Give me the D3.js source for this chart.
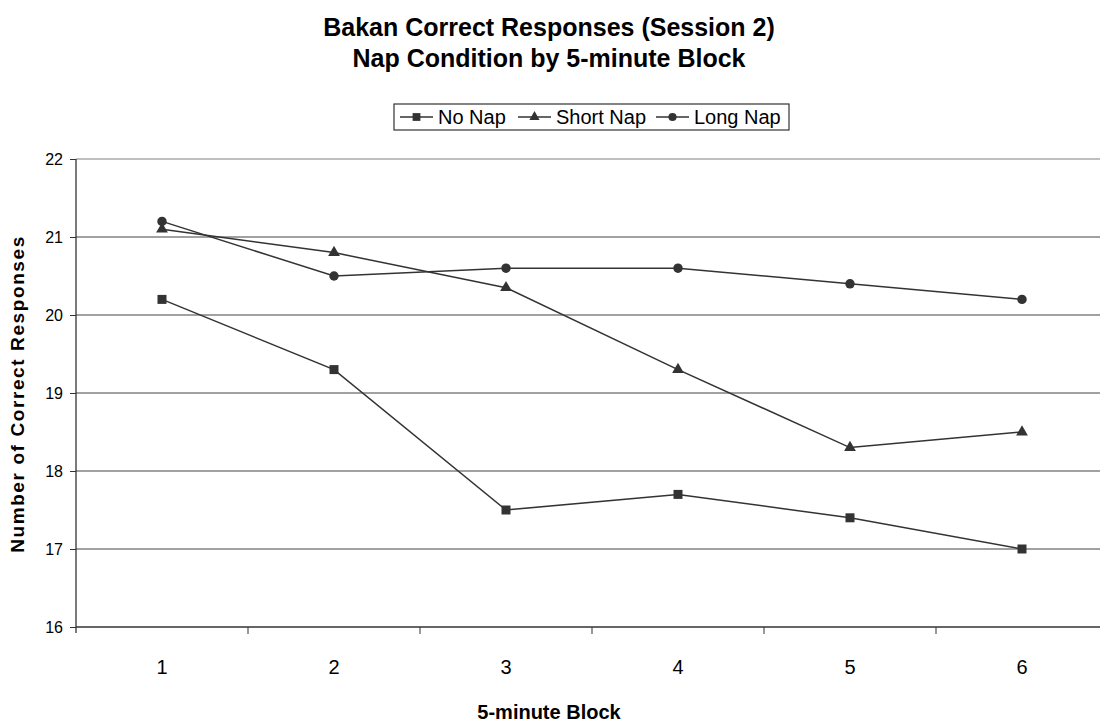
<!DOCTYPE html>
<html>
<head>
<meta charset="utf-8">
<script src="https://cdn.jsdelivr.net/npm/d3@7"></script>
<style>
  body { margin: 0; background: #fff; }
  text { font-family: "Liberation Sans", Arial, sans-serif; }
</style>
</head>
<body>
<div id="chart"></div>
<script>
const width = 1100
const height = 727
// el area del grafico sigue mas alla del borde derecho
const margin = { top: 159, right: -8, bottom: 100, left: 76 }

// datos
const blocks = [1, 2, 3, 4, 5, 6]
const noNap = [20.2, 19.3, 17.5, 17.7, 17.4, 17.0]
const shortNap = [21.1, 20.8, 20.35, 19.3, 18.3, 18.5]
const longNap = [21.2, 20.5, 20.6, 20.6, 20.4, 20.2]
const seriesNames = ['No Nap', 'Short Nap', 'Long Nap']
const yTicks = [16, 17, 18, 19, 20, 21, 22]

const series = [
    { name: seriesNames[0], values: noNap, symbol: d3.symbolSquare, size: 81 },
    { name: seriesNames[1], values: shortNap, symbol: d3.symbolTriangle, size: 60 },
    { name: seriesNames[2], values: longNap, symbol: d3.symbolCircle, size: 70 },
]

const innerW = width - margin.left - margin.right
const innerH = height - margin.top - margin.bottom
const chartCenter = 549

const svg = d3.select('#chart').append('svg').attr('width', width).attr('height', height)

// titulo
svg.append('text').attr('x', chartCenter).attr('y', 36).attr('text-anchor', 'middle')
    .attr('font-size', 25).attr('font-weight', 'bold').text('Bakan Correct Responses (Session 2)')
svg.append('text').attr('x', chartCenter).attr('y', 67).attr('text-anchor', 'middle')
    .attr('font-size', 25).attr('font-weight', 'bold').text('Nap Condition by 5-minute Block')

const g = svg.append('g').attr('transform', `translate(${margin.left}, ${margin.top})`)

const x = d3.scaleBand().domain(blocks).range([0, innerW])
const y = d3.scaleLinear().domain([16, 22]).range([innerH, 0])

// lineas de grilla
g.selectAll('.grid').data(yTicks.slice(1)).enter().append('line')
    .attr('x1', 0).attr('x2', innerW)
    .attr('y1', d => y(d)).attr('y2', d => y(d))
    .attr('stroke', d => d === 22 ? '#808080' : '#444').attr('stroke-width', 1.2)

// eje y
const yAxis = d3.axisLeft(y).tickValues(yTicks).tickFormat(d3.format('d')).tickSize(6).tickPadding(7)
const yAxisGroup = g.append('g').call(yAxis)
yAxisGroup.select('.domain').attr('stroke', '#333').attr('stroke-width', 1.3).attr('d', `M0,${innerH + 6}V0`)
yAxisGroup.selectAll('.tick line').attr('stroke', '#333')
yAxisGroup.selectAll('text').attr('font-size', 16).attr('fill', '#000')

// eje x
const xAxisGroup = g.append('g').attr('transform', `translate(0, ${innerH})`)
xAxisGroup.append('line').attr('x1', 0).attr('x2', innerW).attr('stroke', '#333').attr('stroke-width', 1.3)
xAxisGroup.selectAll('.xtick').data(blocks.slice(1)).enter().append('line')
    .attr('x1', d => x(d)).attr('x2', d => x(d)).attr('y1', 0).attr('y2', 7).attr('stroke', '#333')
xAxisGroup.selectAll('.xlabel').data(blocks).enter().append('text')
    .attr('x', d => x(d) + x.bandwidth() / 2).attr('y', 47)
    .attr('text-anchor', 'middle').attr('font-size', 20).text(d => d)

// titulos de ejes
svg.append('text').attr('x', chartCenter).attr('y', 719).attr('text-anchor', 'middle')
    .attr('font-size', 20).attr('font-weight', 'bold').text('5-minute Block')
svg.append('text').attr('transform', 'translate(24, 394) rotate(-90)').attr('text-anchor', 'middle')
    .attr('font-size', 19).attr('font-weight', 'bold').attr('letter-spacing', 1.6)
    .text('Number of Correct Responses')

// lineas
const line = d3.line().x((d, i) => x(blocks[i]) + x.bandwidth() / 2).y(d => y(d))
const sg = g.selectAll('.series').data(series).enter().append('g')
sg.append('path').attr('d', d => line(d.values)).attr('fill', 'none').attr('stroke', '#333').attr('stroke-width', 1.5)
sg.each(function (s) {
    d3.select(this).selectAll('path.pt').data(s.values).enter().append('path')
        .attr('class', 'pt')
        .attr('transform', (d, i) => `translate(${x(blocks[i]) + x.bandwidth() / 2}, ${y(d)})`)
        .attr('d', d3.symbol().type(s.symbol).size(s.size))
        .attr('fill', '#333')
})

// leyenda
const legend = svg.append('g').attr('transform', 'translate(394, 104)')
legend.append('rect').attr('width', 395).attr('height', 26).attr('fill', '#fff').attr('stroke', '#333').attr('stroke-width', 1.2)
const legendX = [6, 124, 262]
const legendItems = legend.selectAll('.item').data(series).enter().append('g')
    .attr('transform', (d, i) => `translate(${legendX[i]}, 13)`)
legendItems.append('line').attr('x1', 0).attr('x2', 33).attr('stroke', '#333').attr('stroke-width', 1.5)
legendItems.append('path').attr('transform', 'translate(16.5, 0)')
    .attr('d', d => d3.symbol().type(d.symbol).size(d.size * 0.75)()).attr('fill', '#333')
legendItems.append('text').attr('x', 38).attr('y', 7).attr('font-size', 20).text(d => d.name)
</script>
</body>
</html>
